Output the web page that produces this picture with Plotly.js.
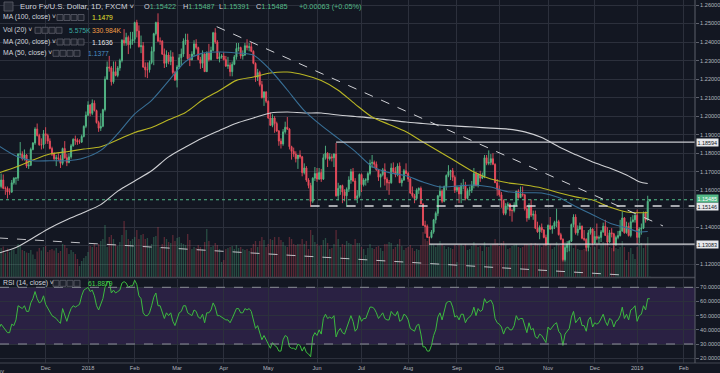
<!DOCTYPE html>
<html><head><meta charset="utf-8">
<script src="https://cdn.plot.ly/plotly-3.0.1.min.js"></script>
<style>html,body{margin:0;padding:0;background:#131722;overflow:hidden}#chart{width:720px;height:373px}</style>
</head><body><div id="chart"></div>
<script>
// ---- DATA (EUR/USD daily, FXCM, Nov 2017 - Jan 2019; bar index = trading day) ----
const open = [
1.1645,1.1620,1.1655,1.1610,1.1610,1.1590,1.1590,1.1640,1.1665,1.1665,1.1795,1.1795,1.1770,1.1790,1.1730,1.1735,1.1820,1.1855,1.1930,1.1895,1.1845,1.1845,
1.1905,1.1895,1.1865,1.1825,1.1795,1.1770,1.1775,1.1770,1.1745,1.1825,1.1775,1.1750,1.1780,1.1840,1.1875,1.1870,1.1860,1.1860,1.1890,1.1945,
1.2005,1.2060,1.2015,1.2070,1.2030,1.1965,1.1935,1.1945,1.2035,1.2200,1.2265,1.2260,1.2185,1.2240,1.2220,1.2260,1.2300,1.2410,1.2395,1.2425,1.2385,1.2405,
1.2415,1.2505,1.2460,1.2375,1.2380,1.2265,1.2250,1.2250,1.2290,1.2350,1.2445,1.2505,1.2405,1.2405,1.2335,1.2285,1.2330,1.2295,1.2320,1.2235,
1.2195,1.2265,1.2315,1.2335,1.2405,1.2410,1.2310,1.2305,1.2335,1.2390,1.2370,1.2305,1.2285,1.2335,1.2240,1.2340,1.2305,1.2355,1.2450,1.2400,1.2310,1.2320,
1.2325,1.2305,1.2270,1.2275,1.2240,1.2280,1.2320,1.2365,1.2370,1.2325,1.2330,1.2380,1.2370,1.2375,1.2350,1.2285,1.2210,1.2235,1.2170,1.2100,1.2130,
1.2080,1.1990,1.1950,1.1990,1.1960,1.1920,1.1865,1.1850,1.1915,1.1940,1.1930,1.1835,1.1810,1.1795,1.1770,1.1790,1.1780,1.1695,1.1720,1.1655,1.1625,1.1540,1.1665,
1.1690,1.1660,1.1695,1.1660,1.1775,1.1800,1.1770,1.1780,1.1775,1.1795,1.1570,1.1610,1.1625,1.1590,1.1570,1.1605,1.1655,1.1700,1.1650,1.1555,1.1570,
1.1685,1.1630,1.1655,1.1655,1.1690,1.1745,1.1750,1.1740,1.1710,1.1670,1.1685,1.1710,1.1660,1.1640,1.1640,1.1720,1.1700,1.1685,1.1730,1.1640,1.1655,1.1705,
1.1690,1.1660,1.1585,1.1570,1.1555,1.1600,1.1610,1.1525,1.1410,1.1405,1.1345,1.1345,1.1375,1.1440,1.1475,1.1570,1.1595,1.1540,1.1620,1.1680,1.1700,1.1705,1.1670,
1.1600,1.1615,1.1580,1.1625,1.1625,1.1555,1.1595,1.1600,1.1625,1.1690,1.1625,1.1685,1.1665,1.1675,1.1775,1.1745,1.1750,1.1770,1.1740,1.1640,
1.1605,1.1575,1.1545,1.1475,1.1515,1.1525,1.1490,1.1490,1.1520,1.1595,1.1560,1.1580,1.1575,1.1500,1.1450,1.1515,1.1465,1.1470,1.1395,1.1375,1.1400,1.1385,1.1345,
1.1310,1.1410,1.1390,1.1405,1.1425,1.1430,1.1360,1.1335,1.1225,1.1290,1.1310,1.1325,1.1415,1.1455,1.1370,1.1390,1.1405,1.1340,1.1335,1.1290,1.1370,1.1390,
1.1315,1.1350,1.1340,1.1345,1.1375,1.1405,1.1355,1.1320,1.1370,1.1365,1.1305,1.1345,1.1355,1.1380,1.1450,1.1370,1.1405,1.1355,1.1430,1.1440,
1.1465,1.1345,1.1390,1.1395,1.1475,1.1440,1.15422];
const high = [
1.1660,1.1690,1.1685,1.1620,1.1620,1.1610,1.1655,1.1670,1.1670,1.1800,1.1860,1.1810,1.1820,1.1795,1.1760,1.1830,1.1860,1.1940,1.1960,1.1905,1.1880,1.1925,
1.1940,1.1905,1.1880,1.1835,1.1805,1.1790,1.1800,1.1790,1.1830,1.1865,1.1795,1.1800,1.1850,1.1880,1.1895,1.1880,1.1875,1.1900,1.1950,1.2025,
1.2080,1.2065,1.2090,1.2085,1.2035,1.1975,1.2015,1.2040,1.2215,1.2295,1.2325,1.2270,1.2295,1.2295,1.2270,1.2310,1.2415,1.2470,1.2450,1.2435,1.2455,1.2455,
1.2510,1.2520,1.2490,1.2435,1.2400,1.2290,1.2290,1.2300,1.2375,1.2450,1.2510,1.2555,1.2425,1.2410,1.2365,1.2355,1.2345,1.2355,1.2345,1.2245,
1.2275,1.2335,1.2365,1.2420,1.2445,1.2445,1.2335,1.2350,1.2410,1.2415,1.2375,1.2320,1.2355,1.2340,1.2350,1.2390,1.2375,1.2455,1.2475,1.2410,1.2345,1.2335,
1.2345,1.2325,1.2320,1.2290,1.2295,1.2330,1.2395,1.2395,1.2375,1.2355,1.2395,1.2415,1.2395,1.2400,1.2355,1.2290,1.2255,1.2245,1.2190,1.2135,1.2135,
1.2085,1.2020,1.2010,1.2000,1.1970,1.1925,1.1880,1.1930,1.1970,1.1995,1.1935,1.1840,1.1830,1.1810,1.1790,1.1815,1.1785,1.1745,1.1730,1.1665,1.1640,1.1670,1.1725,
1.1720,1.1720,1.1715,1.1795,1.1840,1.1805,1.1800,1.1795,1.1800,1.1855,1.1640,1.1625,1.1630,1.1605,1.1615,1.1675,1.1715,1.1720,1.1665,1.1600,1.1690,
1.1690,1.1665,1.1665,1.1700,1.1765,1.1790,1.1760,1.1755,1.1715,1.1690,1.1720,1.1745,1.1670,1.1655,1.1745,1.1750,1.1725,1.1745,1.1750,1.1665,1.1715,1.1745,
1.1700,1.1665,1.1620,1.1580,1.1610,1.1615,1.1620,1.1530,1.1435,1.1415,1.1350,1.1385,1.1445,1.1485,1.1575,1.1625,1.1605,1.1625,1.1685,1.1735,1.1710,1.1720,1.1680,
1.1625,1.1620,1.1640,1.1660,1.1645,1.1610,1.1620,1.1650,1.1720,1.1700,1.1690,1.1705,1.1695,1.1790,1.1790,1.1815,1.1795,1.1800,1.1745,1.1660,
1.1625,1.1590,1.1550,1.1530,1.1535,1.1530,1.1500,1.1535,1.1595,1.1605,1.1620,1.1620,1.1580,1.1515,1.1530,1.1550,1.1490,1.1490,1.1430,1.1410,1.1420,1.1390,1.1360,
1.1415,1.1455,1.1410,1.1435,1.1500,1.1440,1.1370,1.1340,1.1305,1.1325,1.1330,1.1420,1.1470,1.1470,1.1410,1.1425,1.1410,1.1385,1.1340,1.1385,1.1400,1.1395,
1.1380,1.1420,1.1355,1.1385,1.1425,1.1440,1.1400,1.1385,1.1395,1.1370,1.1355,1.1380,1.1440,1.1485,1.1455,1.1430,1.1425,1.1455,1.1465,1.1470,
1.1495,1.1400,1.1420,1.1485,1.1485,1.1570,1.15487];
const low = [
1.1605,1.1610,1.1605,1.1575,1.1555,1.1575,1.1585,1.1630,1.1630,1.1650,1.1780,1.1760,1.1760,1.1720,1.1715,1.1730,1.1815,1.1845,1.1890,1.1840,1.1820,1.1825,
1.1850,1.1850,1.1820,1.1785,1.1760,1.1730,1.1760,1.1720,1.1735,1.1770,1.1730,1.1745,1.1770,1.1835,1.1845,1.1845,1.1850,1.1855,1.1885,1.1935,
1.2000,1.2000,1.2005,1.2025,1.1960,1.1915,1.1920,1.1940,1.2025,1.2195,1.2240,1.2165,1.2175,1.2215,1.2210,1.2245,1.2290,1.2380,1.2380,1.2335,1.2365,1.2385,
1.2395,1.2425,1.2370,1.2340,1.2260,1.2210,1.2205,1.2235,1.2280,1.2275,1.2435,1.2400,1.2385,1.2330,1.2260,1.2265,1.2280,1.2275,1.2225,1.2190,
1.2155,1.2255,1.2275,1.2320,1.2385,1.2305,1.2270,1.2300,1.2325,1.2360,1.2305,1.2255,1.2260,1.2240,1.2240,1.2295,1.2300,1.2350,1.2390,1.2310,1.2290,1.2310,
1.2300,1.2265,1.2255,1.2215,1.2215,1.2275,1.2305,1.2350,1.2310,1.2305,1.2325,1.2355,1.2350,1.2345,1.2280,1.2185,1.2190,1.2160,1.2095,1.2055,1.2070,
1.1985,1.1950,1.1940,1.1910,1.1915,1.1840,1.1825,1.1840,1.1905,1.1925,1.1820,1.1765,1.1780,1.1750,1.1715,1.1770,1.1675,1.1685,1.1645,1.1610,1.1510,1.1530,1.1650,
1.1645,1.1655,1.1645,1.1655,1.1765,1.1725,1.1760,1.1755,1.1725,1.1565,1.1545,1.1575,1.1530,1.1540,1.1510,1.1590,1.1635,1.1645,1.1555,1.1530,1.1560,
1.1590,1.1620,1.1625,1.1640,1.1680,1.1720,1.1720,1.1705,1.1650,1.1615,1.1675,1.1625,1.1600,1.1575,1.1635,1.1690,1.1670,1.1675,1.1640,1.1620,1.1650,1.1685,
1.1645,1.1580,1.1560,1.1530,1.1550,1.1580,1.1525,1.1410,1.1365,1.1345,1.1305,1.1340,1.1365,1.1420,1.1460,1.1560,1.1530,1.1535,1.1600,1.1670,1.1655,1.1650,1.1585,
1.1590,1.1530,1.1530,1.1605,1.1545,1.1550,1.1570,1.1585,1.1610,1.1620,1.1615,1.1645,1.1660,1.1665,1.1735,1.1735,1.1735,1.1735,1.1640,1.1570,
1.1565,1.1505,1.1465,1.1465,1.1495,1.1460,1.1430,1.1480,1.1515,1.1555,1.1560,1.1565,1.1490,1.1430,1.1440,1.1455,1.1440,1.1390,1.1370,1.1335,1.1370,1.1340,1.1300,
1.1305,1.1385,1.1365,1.1390,1.1400,1.1355,1.1330,1.1215,1.1215,1.1265,1.1270,1.1320,1.1400,1.1360,1.1355,1.1385,1.1335,1.1325,1.1270,1.1270,1.1360,1.1305,
1.1310,1.1330,1.1310,1.1320,1.1370,1.1355,1.1305,1.1315,1.1345,1.1270,1.1300,1.1335,1.1350,1.1375,1.1365,1.1365,1.1350,1.1345,1.1425,1.1425,
1.1310,1.1315,1.1360,1.1390,1.1425,1.1435,1.15391];
const close = [
1.1620,1.1655,1.1610,1.1610,1.1590,1.1590,1.1640,1.1665,1.1665,1.1795,1.1795,1.1770,1.1790,1.1730,1.1735,1.1820,1.1855,1.1930,1.1895,1.1845,1.1845,1.1905,
1.1895,1.1865,1.1825,1.1795,1.1770,1.1775,1.1770,1.1745,1.1825,1.1775,1.1750,1.1780,1.1840,1.1875,1.1870,1.1860,1.1860,1.1890,1.1945,1.2005,
1.2060,1.2015,1.2070,1.2030,1.1965,1.1935,1.1945,1.2035,1.2200,1.2265,1.2260,1.2185,1.2240,1.2220,1.2260,1.2300,1.2410,1.2395,1.2425,1.2385,1.2405,1.2415,
1.2505,1.2460,1.2375,1.2380,1.2265,1.2250,1.2250,1.2290,1.2350,1.2445,1.2505,1.2405,1.2405,1.2335,1.2285,1.2330,1.2295,1.2320,1.2235,1.2195,
1.2265,1.2315,1.2335,1.2405,1.2410,1.2310,1.2305,1.2335,1.2390,1.2370,1.2305,1.2285,1.2335,1.2240,1.2340,1.2305,1.2355,1.2450,1.2400,1.2310,1.2320,1.2325,
1.2305,1.2270,1.2275,1.2240,1.2280,1.2320,1.2365,1.2370,1.2325,1.2330,1.2380,1.2370,1.2375,1.2350,1.2285,1.2210,1.2235,1.2170,1.2100,1.2130,1.2080,
1.1990,1.1950,1.1990,1.1960,1.1920,1.1865,1.1850,1.1915,1.1940,1.1930,1.1835,1.1810,1.1795,1.1770,1.1790,1.1780,1.1695,1.1720,1.1655,1.1625,1.1540,1.1665,1.1690,
1.1660,1.1695,1.1660,1.1775,1.1800,1.1770,1.1780,1.1775,1.1795,1.1570,1.1610,1.1625,1.1590,1.1570,1.1605,1.1655,1.1700,1.1650,1.1555,1.1570,1.1685,
1.1630,1.1655,1.1655,1.1690,1.1745,1.1750,1.1740,1.1710,1.1670,1.1685,1.1710,1.1660,1.1640,1.1640,1.1720,1.1700,1.1685,1.1730,1.1640,1.1655,1.1705,1.1690,
1.1660,1.1585,1.1570,1.1555,1.1600,1.1610,1.1525,1.1410,1.1405,1.1345,1.1345,1.1375,1.1440,1.1475,1.1570,1.1595,1.1540,1.1620,1.1680,1.1700,1.1705,1.1670,1.1600,
1.1615,1.1580,1.1625,1.1625,1.1555,1.1595,1.1600,1.1625,1.1690,1.1625,1.1685,1.1665,1.1675,1.1775,1.1745,1.1750,1.1770,1.1740,1.1640,1.1605,
1.1575,1.1545,1.1475,1.1515,1.1525,1.1490,1.1490,1.1520,1.1595,1.1560,1.1580,1.1575,1.1500,1.1450,1.1515,1.1465,1.1470,1.1395,1.1375,1.1400,1.1385,1.1345,1.1310,
1.1410,1.1390,1.1405,1.1425,1.1430,1.1360,1.1335,1.1225,1.1290,1.1310,1.1325,1.1415,1.1455,1.1370,1.1390,1.1405,1.1340,1.1335,1.1290,1.1370,1.1390,1.1315,
1.1350,1.1340,1.1345,1.1375,1.1405,1.1355,1.1320,1.1370,1.1365,1.1305,1.1345,1.1355,1.1380,1.1450,1.1370,1.1405,1.1355,1.1430,1.1440,1.1465,
1.1345,1.1390,1.1395,1.1475,1.1440,1.1540,1.15485];
// volume in thousands
const volume = [
262,290,305,240,285,250,270,275,230,330,320,270,260,245,240,270,225,180,255,290,265,300,
310,250,270,280,265,290,240,260,330,320,290,230,270,250,230,180,110,160,190,210,
250,310,300,330,300,330,360,380,520,300,400,420,380,330,310,350,420,560,470,380,360,380,
400,470,380,420,430,380,390,300,330,400,410,500,300,330,400,380,350,340,420,360,
390,400,340,330,320,430,370,280,300,290,320,300,280,350,480,360,300,310,340,320,280,150,
170,280,290,300,310,280,320,290,300,280,270,280,260,290,330,360,300,360,400,370,300,
330,380,370,400,320,400,370,350,310,300,400,380,330,320,330,330,380,330,360,280,470,420,350,
330,310,320,370,390,340,280,290,330,470,380,300,330,320,360,340,330,320,380,340,340,
300,280,220,290,330,290,280,300,310,290,260,330,330,350,340,280,300,330,380,310,270,290,
300,320,290,260,280,270,320,450,380,360,400,330,320,300,330,360,330,310,280,300,290,280,320,
150,320,330,310,330,270,280,310,350,320,300,310,260,350,300,300,320,330,380,340,
310,340,360,320,280,290,310,320,330,300,290,300,330,330,320,340,310,340,330,320,300,330,370,
340,330,280,300,350,320,310,380,350,320,330,340,290,320,280,270,270,280,290,360,300,320,
300,350,280,330,350,340,360,300,290,310,290,280,300,360,300,170,250,290,230,180,
300,330,340,290,330,400,6];
const rsi = [
41,44,42,40,38,38,44,43,47,57,56,55,57,53,53,59,62,67,62,59,60,64,
58,55,52,50,49,48,46,44.6,55,50,46,51,55,57,56,57,58,64,68,69,
70,67,68,64,57,54,58,62,70,74,74,66,68,66,67,68,73,74,73,70,71,71,
75,72,64,62,52,50,50,52,57,63,66,57,57,52,48,52,50,52,46,43,
48,52,53,57,57,52,51,50,54,53,49,48,51,45,52,52,54,59,56,50,50,49,
48,47,47,45,48,52,55,55,52,52,55,54,55,53,47,41,43,38,33,36,33,
29,27,31,29,28,25,25,33,36,35,28,27,27,26,30,29,25,28,24,23,21,35,38,
36,40,37,48,51,48,49,48,50,35,39,41,38,37,41,46,50,46,39,41,50,
46,48,48,52,56,56,55,52,48,50,52,48,47,47,53,51,50,53,46,47,51,50,
47,41,40,39,43,44,37,28,28,25,25,29,36,40,49,52,47,54,59,60,60,56,49,
50,47,51,51,45,48,49,51,56,50,55,53,54,62,59,60,61,58,48,45,
44,42,37,41,42,40,40,43,50,47,48,48,42,38,45,40,41,35,34,37,36,33,31,
42,40,42,44,45,39,37,29,37,39,41,49,53,45,47,49,43,43,39,47,49,42,
45,44,45,48,51,46,43,48,47,42,46,47,50,56,48,51,47,54,55,57,
46,50,51,57,54,62,61.8879];
// moving averages at these bar indices
const maIdx = [0,8,16,24,32,40,48,56,64,72,80,88,96,104,112,120,128,136,144,152,160,168,176,184,192,200,208,216,224,232,240,248,256,264,272,280,288,296,302,306];
const ma50  = [1.1839,1.1785,1.1759,1.1759,1.1759,1.1774,1.1815,1.1905,1.2012,1.2085,1.2190,1.2295,1.2340,1.2346,1.2341,1.2330,1.2249,1.2141,1.2030,1.1950,1.1880,1.1810,1.1728,1.1695,1.1678,1.1644,1.1617,1.1623,1.1628,1.1617,1.1592,1.1586,1.1585,1.1560,1.1512,1.1468,1.1423,1.1396,1.1375,1.1377];
const ma100 = [1.1694,1.1725,1.1763,1.1795,1.1808,1.1822,1.1835,1.1872,1.1912,1.1938,1.1980,1.2020,1.2087,1.2138,1.2193,1.2211,1.2233,1.2238,1.2222,1.2192,1.2140,1.2065,1.1995,1.1955,1.1915,1.1860,1.1806,1.1752,1.1698,1.1660,1.1640,1.1628,1.1612,1.1586,1.1564,1.1547,1.1509,1.1482,1.1478,1.1479];
const ma200 = [1.1261,1.1290,1.1342,1.1396,1.1440,1.1480,1.1522,1.1595,1.1650,1.1705,1.1780,1.1833,1.1882,1.1923,1.1962,1.1990,1.2017,1.2022,1.2017,1.2017,1.2006,1.1998,1.1990,1.1979,1.1968,1.1960,1.1952,1.1946,1.1941,1.1935,1.1930,1.1915,1.1884,1.1835,1.1792,1.1752,1.1720,1.1682,1.1646,1.1636];
const xTickIdx  = [22,42,64,84,106,127,150,171,193,216,236,259,281,301,323];
const xTickText = ['Dec','2018','Feb','Mar','Apr','May','Jun','Jul','Aug','Sep','Oct','Nov','Dec','2019','Feb'];
const priceTicks = [1.12,1.13,1.14,1.15,1.16,1.17,1.18,1.19,1.20,1.21,1.22,1.23,1.24,1.25,1.26];
const priceTickText = ['1.12000','','1.14000','','1.16000','1.17000','1.18000','1.19000','1.20000','1.21000','1.22000','1.23000','1.24000','1.25000','1.26000'];
const rsiTicks = [20,30,40,50,60,70];
const rsiTickText = ['20.0000','30.0000','40.0000','50.0000','60.0000','70.0000'];
const levelPrice = [1.18594, 1.15146, 1.13083];
const levelStartIdx = [159, 147, 203];
const lastPrice = 1.15485;
const trendUpIdx = [102.7, 313.2], trendUpPrice = [1.2483, 1.1407];
const trendLowIdx = [0, 294.3], trendLowPrice = [1.1342, 1.1142];

// ---- CHART ----
const idx = close.map((_, i) => i);
const UP = '#53b987', DN = '#eb4d5c', TXT = '#d1d4dc', AX = '#b2b5be', GRID = '#2c303c';
const F = 'Liberation Sans, Arial, sans-serif';
const PW = 695, PH = 363;
const fx = x => x / PW, fy = y => 1 - y / PH;
const volColors = close.map((c, i) => c >= open[i] ? 'rgba(83,185,135,0.33)' : 'rgba(235,77,92,0.33)');

const traces = [
  {type:'bar', x:idx, y:volume, xaxis:'x', yaxis:'y', marker:{color:volColors, line:{width:0}}, width:0.62, hoverinfo:'skip'},
  {type:'scatter', mode:'lines', x:maIdx, y:ma200, xaxis:'x', yaxis:'y3', line:{color:'#cfd0d4', width:1.1, shape:'spline', smoothing:0.8}, hoverinfo:'skip'},
  {type:'scatter', mode:'lines', x:maIdx, y:ma100, xaxis:'x', yaxis:'y3', line:{color:'#b9b624', width:1.1, shape:'spline', smoothing:0.8}, hoverinfo:'skip'},
  {type:'scatter', mode:'lines', x:maIdx, y:ma50, xaxis:'x', yaxis:'y3', line:{color:'#386f96', width:1.1, shape:'spline', smoothing:0.8}, hoverinfo:'skip'},
  {type:'candlestick', x:idx, open:open, high:high, low:low, close:close, xaxis:'x', yaxis:'y3',
   increasing:{line:{color:UP, width:0.9}, fillcolor:UP}, decreasing:{line:{color:DN, width:0.9}, fillcolor:DN},
   whiskerwidth:0, hoverinfo:'skip'},
  {type:'scatter', mode:'lines', x:idx, y:rsi, xaxis:'x', yaxis:'y2', line:{color:'#3cba3f', width:1}, hoverinfo:'skip'}
];

const shapes = [];
shapes.push({type:'rect', xref:'paper', x0:0, x1:1, yref:'y2', y0:30, y1:70, fillcolor:'#2a2143', line:{width:0}, layer:'below'});
[70,30].forEach(v => shapes.push({type:'line', xref:'paper', x0:0, x1:1, yref:'y2', y0:v, y1:v, line:{color:'#8a8d97', width:1, dash:'dash'}}));
shapes.push({type:'line', xref:'x', x0:levelStartIdx[0], x1:340, yref:'y3', y0:levelPrice[0], y1:levelPrice[0], line:{color:'#c9cacf', width:1.4}});
shapes.push({type:'line', xref:'x', x0:levelStartIdx[1], x1:340, yref:'y3', y0:levelPrice[1], y1:levelPrice[1], line:{color:'#d8d9dd', width:1.3, dash:'dash'}});
shapes.push({type:'line', xref:'x', x0:levelStartIdx[2], x1:340, yref:'y3', y0:levelPrice[2], y1:levelPrice[2], line:{color:'#d8d9dd', width:1.3}});
shapes.push({type:'line', xref:'paper', x0:0, x1:1, yref:'y3', y0:lastPrice, y1:lastPrice, line:{color:UP, width:1, dash:'dot'}});
shapes.push({type:'line', xref:'x', x0:trendUpIdx[0], x1:trendUpIdx[1], yref:'y3', y0:trendUpPrice[0], y1:trendUpPrice[1], line:{color:'#d0d1d6', width:1, dash:'dash'}});
shapes.push({type:'line', xref:'x', x0:trendLowIdx[0], x1:trendLowIdx[1], yref:'y3', y0:trendLowPrice[0], y1:trendLowPrice[1], line:{color:'#c0c1c6', width:1, dash:'dash'}});
shapes.push({type:'line', xref:'paper', x0:0, x1:1, yref:'paper', y0:fy(277.5), y1:fy(277.5), line:{color:'#434651', width:1.5}});
shapes.push({type:'line', xref:'paper', x0:0, x1:1.04, yref:'paper', y0:0, y1:0, line:{color:'#434651', width:1}});
shapes.push({type:'line', xref:'paper', x0:1, x1:1, yref:'paper', y0:0, y1:1, line:{color:'#5d606b', width:1}});
function icons(x, y){ for(let k=0;k<4;k++){ shapes.push({type:'rect', xref:'paper', yref:'paper', x0:fx(x+k*7), x1:fx(x+k*7+6), y0:fy(y+3), y1:fy(y-3), line:{color:'#5d606b', width:0.8}, fillcolor:'#1e222d'}); } }
icons(57,17.5); icons(35,30.3); icons(57,42); icons(53,53.3); icons(53,283.3);
shapes.push({type:'rect', xref:'paper', yref:'paper', x0:fx(4), x1:fx(13), y0:fy(11), y1:fy(2), line:{color:'#5d606b', width:0.8}, fillcolor:'#2a2e39'});

const ann = [];
function t(x, y, text, size, color){ ann.push({xref:'paper', yref:'paper', x:fx(x), y:fy(y), xanchor:'left', yanchor:'middle', showarrow:false, text:text, font:{family:F, size:size, color:color||TXT}}); }
const g = s => `<span style="color:${UP}">${s}</span>`;
t(18, 6.5, 'Euro Fx/U.S. Dollar, 1D, FXCM ˅', 7.8);
t(142, 6.5, 'O' + g('1.15422'), 7.3);
t(181, 6.5, 'H' + g('1.15487'), 7.3);
t(217, 6.5, 'L' + g('1.15391'), 7.3);
t(254, 6.5, 'C' + g('1.15485'), 7.3);
t(297, 6.5, g('+0.00063 (+0.05%)'), 7.3);
t(1, 17.5, 'MA (100, close) ˅', 6.8); t(90, 17.5, '1.1479', 6.8, '#e6e22e');
t(1, 30.3, 'Vol (20) ˅', 6.8); t(67, 30.3, '5.575K', 6.8, '#3aa9a0'); t(90, 30.3, '330.984K', 6.8, '#f09b45');
t(1, 42, 'MA (200, close) ˅', 6.8); t(90, 42, '1.1636', 6.8, '#e8e8ea');
t(1, 53.3, 'MA (50, close) ˅', 6.8); t(86, 53.3, '1.1377', 6.8, '#4a90c4');
t(1, 283.3, 'RSI (14, close) ˅', 6.8); t(86, 283.3, '61.8879', 6.8, '#44d24a');
ann.push({xref:'paper', yref:'paper', x:fx(-1), y:-3/PH, xanchor:'center', yanchor:'top', showarrow:false, text:'Nov', font:{family:F, size:5.6, color:AX}});
function tag(p, txt, bg, fg, sh){ ann.push({xref:'paper', x:1, xanchor:'left', xshift:1, yref:'y3', y:p, yanchor:'middle', yshift:sh||0, showarrow:false, text:txt, bgcolor:bg, borderpad:0.5, font:{family:F, size:5.4, color:fg}}); }
tag(levelPrice[0], '1.18594', '#e8e9ec', '#131722');
tag(levelPrice[2], '1.13083', '#e8e9ec', '#131722');
tag(levelPrice[1], '1.15146', '#e8e9ec', '#131722', -0.8);
tag(lastPrice, '1.15485', UP, '#ffffff', 0.8);

const layout = {
  width:720, height:373, margin:{l:0, r:25, t:0, b:10},
  paper_bgcolor:'#131722', plot_bgcolor:'rgba(0,0,0,0)',
  showlegend:false, hovermode:false, dragmode:false,
  xaxis:{domain:[0,1], range:[0.472, 328.3], anchor:'y2', tickvals:xTickIdx, ticktext:xTickText,
         showgrid:true, gridcolor:GRID, gridwidth:1, zeroline:false, showline:false, ticks:'',
         tickfont:{family:F, size:5.6, color:AX}, rangeslider:{visible:false}},
  yaxis:{domain:[1-277/PH, 1], range:[0, 2770], visible:false, showgrid:false, zeroline:false, fixedrange:true},
  yaxis3:{overlaying:'y', side:'right', anchor:'x', range:[1.11313, 1.26270], tickvals:priceTicks, ticktext:priceTickText,
          showgrid:true, gridcolor:GRID, zeroline:false, showline:false, ticks:'outside', ticklen:3, tickcolor:'#5d606b',
          tickfont:{family:F, size:5.6, color:AX}},
  yaxis2:{domain:[0, 1-279/PH], range:[16.6, 75.86], side:'right', anchor:'x', tickvals:rsiTicks,
          ticktext:rsiTickText, showgrid:true, gridcolor:GRID, zeroline:false, showline:false,
          ticks:'outside', ticklen:3, tickcolor:'#5d606b', tickfont:{family:F, size:5.6, color:AX}},
  shapes:shapes, annotations:ann
};
Plotly.newPlot('chart', traces, layout, {staticPlot:true, displayModeBar:false});
</script></body></html>
